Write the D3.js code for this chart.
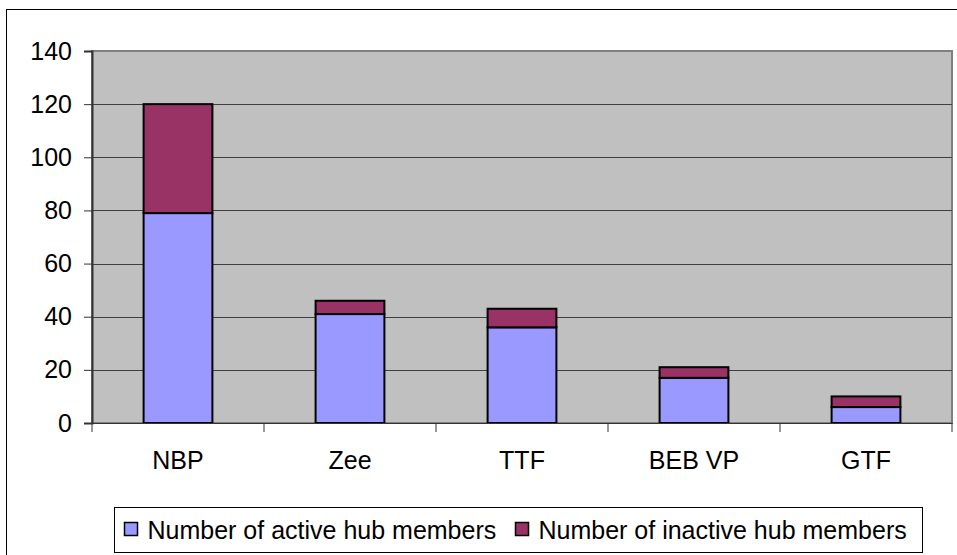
<!DOCTYPE html>
<html>
<head>
<meta charset="utf-8">
<script src="https://cdn.jsdelivr.net/npm/d3@7"></script>
<style>
  body { margin: 0; background: #fff; }
  text { font-family: "Liberation Sans", Arial, sans-serif; fill: #000; }
</style>
</head>
<body>
<div id="chart"></div>
<script>
// data
var hubs = ["NBP", "Zee", "TTF", "BEB VP", "GTF"];
var activeMembers = [79, 41, 36, 17, 6];
var inactiveMembers = [41, 5, 7, 4, 4];
var seriesNames = ["Number of active hub members", "Number of inactive hub members"];
var seriesColors = ["#9999ff", "#993366"];
var yTicks = [0, 20, 40, 60, 80, 100, 120, 140];

var svgWidth = 957;
var svgHeight = 555;

var margin = { top: 51, right: 5, bottom: 132, left: 92 };
var width = svgWidth - margin.left - margin.right;
var height = svgHeight - margin.top - margin.bottom;

var svg = d3.select("#chart")
  .append("svg")
  .attr("width", svgWidth)
  .attr("height", svgHeight);

// outer chart frame
svg.append("rect")
  .attr("x", 6.5).attr("y", 9.5)
  .attr("width", 960).attr("height", 560)
  .attr("fill", "none")
  .attr("stroke", "#000")
  .attr("stroke-width", 1);

var chartGroup = svg.append("g")
  .attr("transform", `translate(${margin.left}, ${margin.top})`);

var table = hubs.map(function(h, i) {
  return { hub: h, active: activeMembers[i], inactive: inactiveMembers[i] };
});
var stacked = d3.stack().keys(["active", "inactive"])(table);

var xScale = d3.scaleBand()
  .domain(hubs)
  .range([0, width])
  .paddingInner(0.6)
  .paddingOuter(0.3);

var yScale = d3.scaleLinear()
  .domain([0, 140])
  .range([height, 0]);

// plot area
chartGroup.append("rect")
  .attr("width", width)
  .attr("height", height)
  .attr("fill", "#c0c0c0")
  .attr("stroke", "#808080")
  .attr("stroke-width", 2);

// gridlines
chartGroup.selectAll(".grid")
  .data(yTicks.slice(1, -1))
  .enter()
  .append("line")
  .attr("x1", 0).attr("x2", width)
  .attr("y1", d => Math.round(yScale(d)) + 0.5)
  .attr("y2", d => Math.round(yScale(d)) + 0.5)
  .attr("stroke", "#404040")
  .attr("stroke-width", 1);

// bars
chartGroup.selectAll(".layer")
  .data(stacked)
  .enter()
  .append("g")
  .attr("fill", (d, i) => seriesColors[i])
  .selectAll("rect")
  .data(d => d)
  .enter()
  .append("rect")
  .attr("x", d => xScale(d.data.hub))
  .attr("y", d => yScale(d[1]))
  .attr("width", xScale.bandwidth())
  .attr("height", d => yScale(d[0]) - yScale(d[1]))
  .attr("stroke", "#000")
  .attr("stroke-width", 2);

// y axis
var leftAxis = d3.axisLeft(yScale)
  .tickValues(yTicks)
  .tickSize(8)
  .tickPadding(12);

var yAxisG = chartGroup.append("g").call(leftAxis);
yAxisG.select(".domain").attr("stroke", "#333").attr("stroke-width", 2);
yAxisG.selectAll(".tick line").attr("stroke", "#333");
yAxisG.selectAll("text")
  .attr("font-size", 25)
  .attr("font-family", "Liberation Sans, Arial, sans-serif")
  .attr("fill", "#000");

// x axis: ticks sit between categories
var bottomAxis = d3.axisBottom(xScale)
  .tickSize(0)
  .tickPadding(28);

var xAxisG = chartGroup.append("g")
  .attr("transform", `translate(0, ${height})`)
  .call(bottomAxis);
xAxisG.select(".domain").attr("stroke", "#333").attr("stroke-width", 1);
xAxisG.selectAll("text")
  .attr("font-size", 25)
  .attr("font-family", "Liberation Sans, Arial, sans-serif")
  .attr("fill", "#000");

var step = width / hubs.length;
xAxisG.selectAll(".sep")
  .data(d3.range(hubs.length + 1))
  .enter()
  .append("line")
  .attr("x1", d => d * step).attr("x2", d => d * step)
  .attr("y1", 0).attr("y2", 9)
  .attr("stroke", "#333");

// legend
var legend = svg.append("g").attr("transform", "translate(114.5, 507.5)");
legend.append("rect")
  .attr("width", 808).attr("height", 45)
  .attr("fill", "#fff")
  .attr("stroke", "#000")
  .attr("stroke-width", 1);

var legendX = [10, 401];
var items = legend.selectAll(".item")
  .data(seriesNames)
  .enter()
  .append("g")
  .attr("transform", (d, i) => `translate(${legendX[i]}, 0)`);

items.append("rect")
  .attr("x", 0).attr("y", 15)
  .attr("width", 13).attr("height", 13)
  .attr("fill", (d, i) => seriesColors[i])
  .attr("stroke", "#000")
  .attr("stroke-width", 1.5);

items.append("text")
  .attr("x", 23).attr("y", 31)
  .attr("font-size", 25)
  .text(d => d);
</script>
</body>
</html>
